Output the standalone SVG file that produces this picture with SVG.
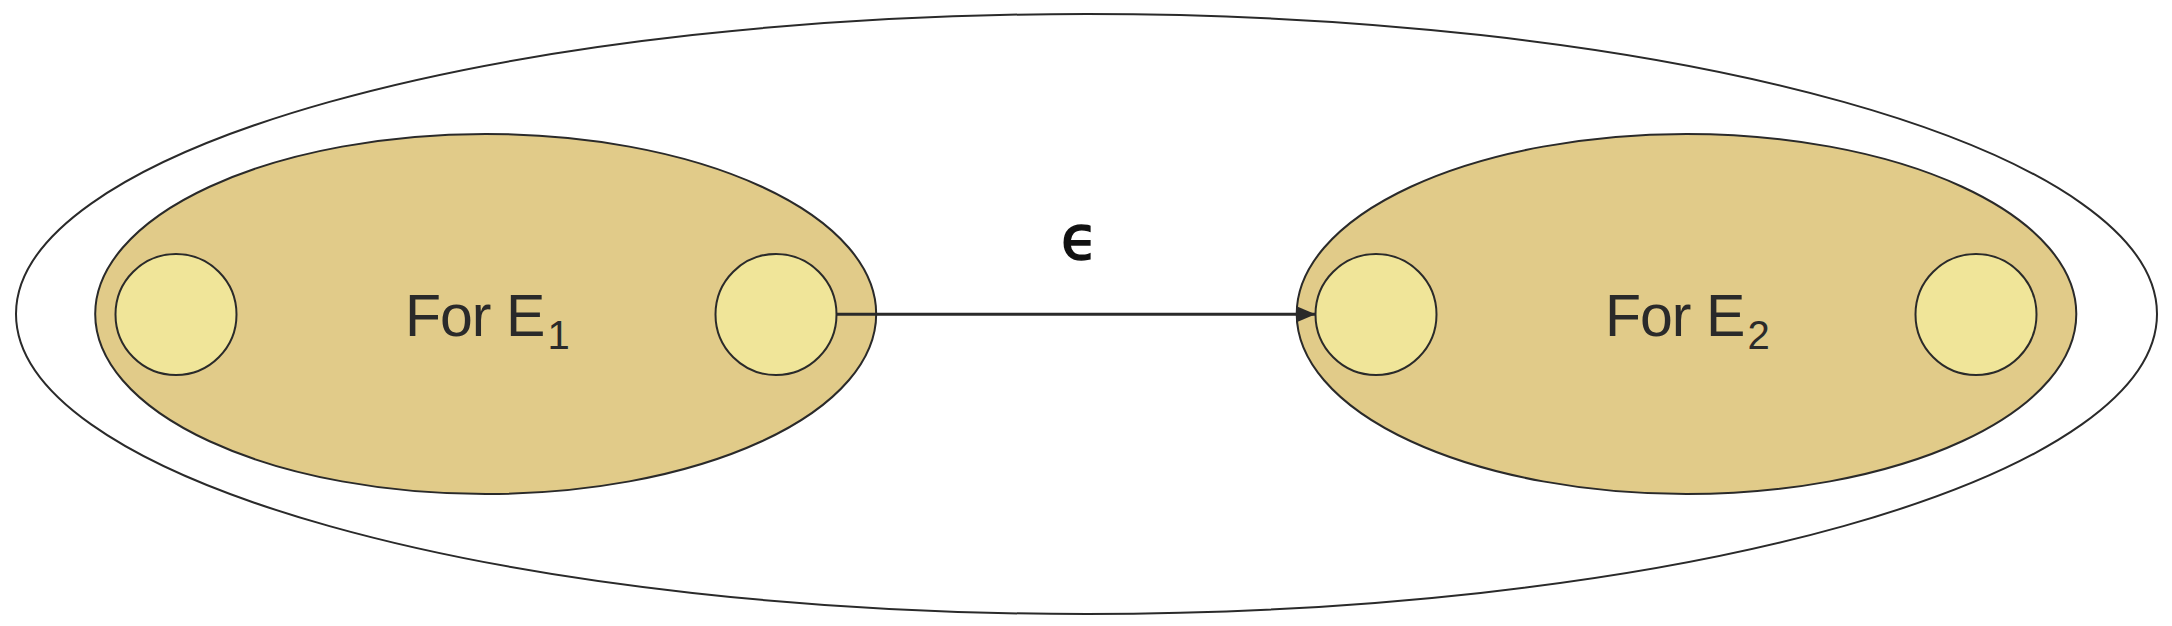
<svg xmlns="http://www.w3.org/2000/svg" width="2172" height="626" viewBox="0 0 2172 626">
<style>
.outer{fill:#ffffff;stroke:#2a2a2a;stroke-width:2}
.group{fill:#e1cb89;stroke:#2a2a2a;stroke-width:2}
.state{fill:#f0e599;stroke:#2a2a2a;stroke-width:2}
.lbl{font-family:"Liberation Sans",Arial,sans-serif;font-size:59px;fill:#2a2a2a;letter-spacing:-1px}
.sub{font-size:40px;letter-spacing:0}
.eps{font-family:"DejaVu Sans",sans-serif;font-size:60px;fill:#111111;stroke:#111111;stroke-width:1.6}
.edge{stroke:#2a2a2a;stroke-width:3;fill:none}
</style>
<defs>
<marker id="arrow" markerWidth="20" markerHeight="17" refX="20" refY="8.5" orient="auto" markerUnits="userSpaceOnUse">
<path d="M0,0 L20,8.5 L0,17 Z" fill="#2a2a2a"/>
</marker>
</defs>
<g id="outer">
<ellipse class="outer" cx="1086.5" cy="314" rx="1070.5" ry="300"/>
</g>
<g id="E1">
<ellipse class="group" cx="485.7" cy="314" rx="390.5" ry="180"/>
<text class="lbl" x="405" y="335.7">For E<tspan class="sub" x="547.5" y="349.3">1</tspan></text>
</g>
<g id="E1-start">
<circle class="state" cx="176" cy="314.5" r="60.5"/>
</g>
<g id="E1-end">
<circle class="state" cx="776" cy="314.5" r="60.5"/>
</g>
<g id="E2">
<ellipse class="group" cx="1686.5" cy="314" rx="389.8" ry="180"/>
<text class="lbl" x="1605" y="335.7">For E<tspan class="sub" x="1747.5" y="349.3">2</tspan></text>
</g>
<g id="E2-start">
<circle class="state" cx="1376" cy="314.5" r="60.5"/>
</g>
<g id="E2-end">
<circle class="state" cx="1976" cy="314.5" r="60.5"/>
</g>
<g id="connectors">
<line class="edge" x1="836.5" y1="314.3" x2="1315.5" y2="314.3" marker-end="url(#arrow)"/>
<text class="eps" x="1061" y="259">ϵ</text>
</g>
</svg>
